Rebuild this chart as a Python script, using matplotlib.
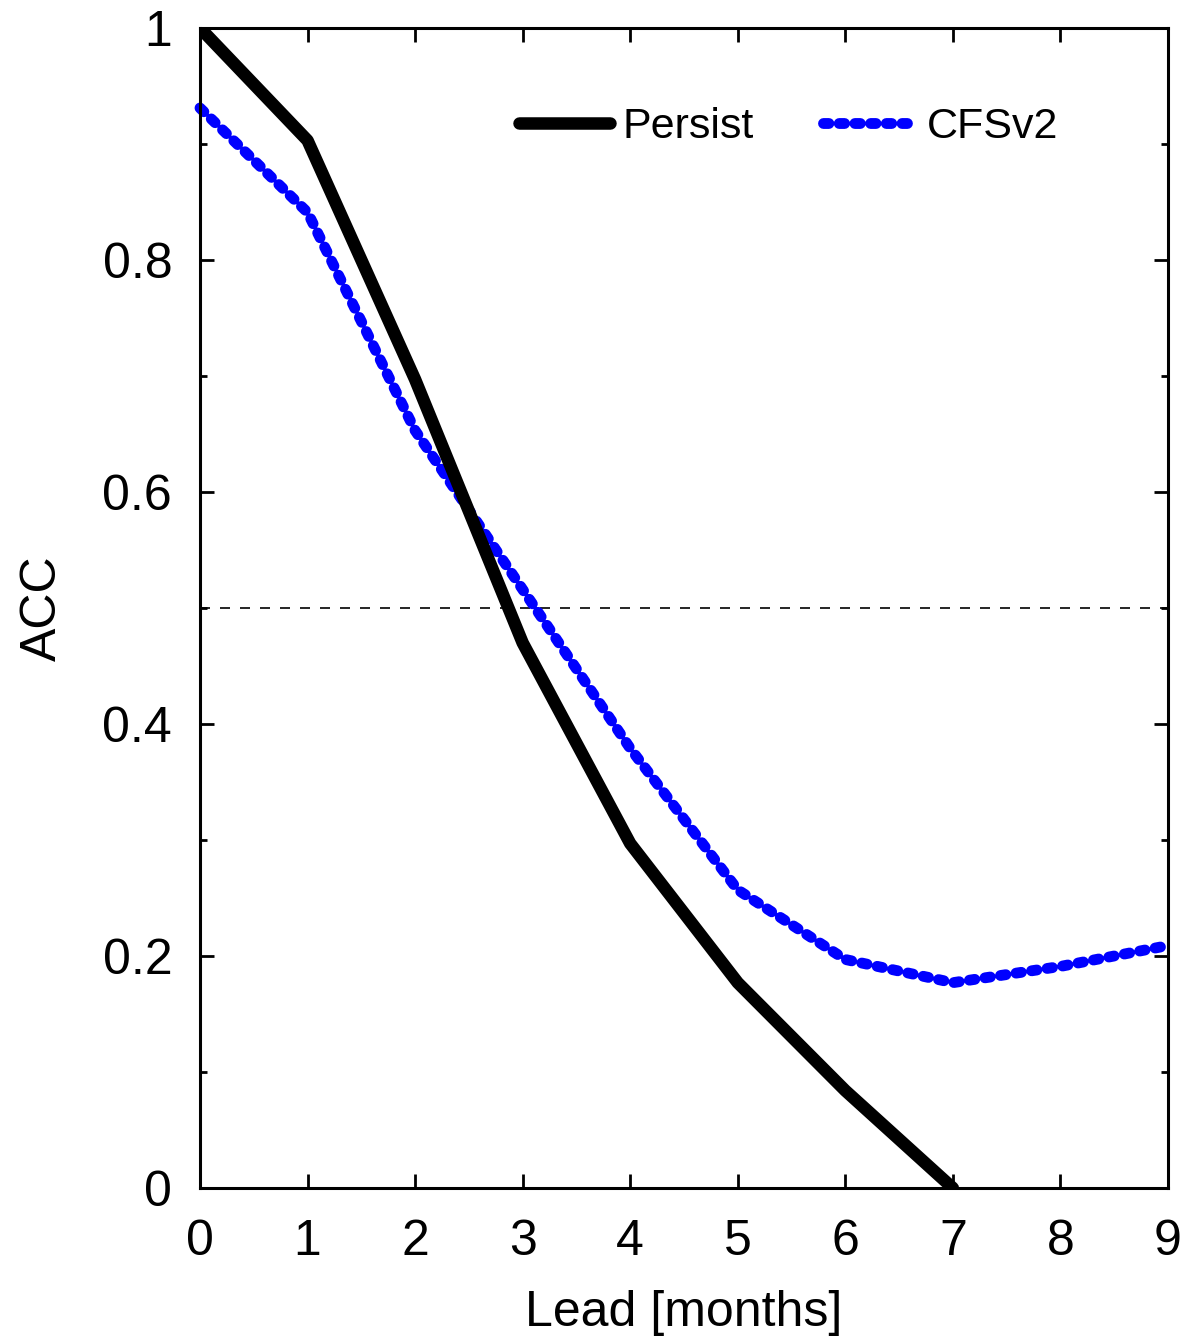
import matplotlib.pyplot as plt
from matplotlib.ticker import MultipleLocator
from matplotlib.font_manager import FontProperties

# lead time in months
lead = [0, 1, 2, 3, 4, 5, 6, 7, 8, 9]

# ACC values
persist_lead = [0, 1, 2, 3, 4, 5, 6, 7]
persist_acc = [1.0, 0.903, 0.697, 0.47, 0.297, 0.177, 0.084, 0.0]
cfsv2_acc = [0.931, 0.841, 0.653, 0.516, 0.379, 0.257, 0.197, 0.177, 0.191, 0.209]

plt.rcParams['font.family'] = ['Liberation Sans', 'DejaVu Sans']

fig = plt.figure(figsize=(11.89, 13.43), dpi=100)
ax = fig.add_axes([0.1682, 0.1154, 0.8141, 0.8638])

# reference line at ACC = 0.5
ax.axhline(0.5, color='black', lw=1.2, ls=(0, (6, 6)), zorder=1)

ax.plot(persist_lead, persist_acc, color='black', lw=9,
        solid_capstyle='round', solid_joinstyle='round', label='Persist', zorder=3)
ax.plot(lead, cfsv2_acc, color='#0000ff', lw=7.8, ls=(0, (0.5, 0.95)),
        dash_capstyle='round', label='CFSv2', zorder=2, clip_on=False)

ax.set_xlim(0, 9)
ax.set_ylim(0, 1)
ax.xaxis.set_major_locator(MultipleLocator(1))
ax.yaxis.set_minor_locator(MultipleLocator(0.1))
ax.set_yticks([0, 0.2, 0.4, 0.6, 0.8, 1.0])
ax.set_yticklabels(['0', '0.2', '0.4', '0.6', '0.8', '1'])

ax.tick_params(which='both', direction='in', top=True, right=True,
               width=2, labelsize=36, color='black')
ax.tick_params(which='major', length=10)
ax.tick_params(axis='x', which='major', pad=22)
ax.tick_params(axis='y', which='major', pad=20)
ax.tick_params(which='minor', length=5)

for s in ax.spines.values():
    s.set_linewidth(2.2)

ax.set_xlabel('Lead [months]', fontsize=36, labelpad=18)
ax.set_ylabel('ACC', fontsize=36, labelpad=26)

legend_font = FontProperties(family=['Liberation Sans Narrow', 'Liberation Sans'], size=31)
ax.legend(loc='upper left', bbox_to_anchor=(0.29, 0.965), ncol=2, frameon=False,
          prop=legend_font, handlelength=2.1, handletextpad=0.3, columnspacing=1.6)

plt.savefig('out.png', dpi=100)
